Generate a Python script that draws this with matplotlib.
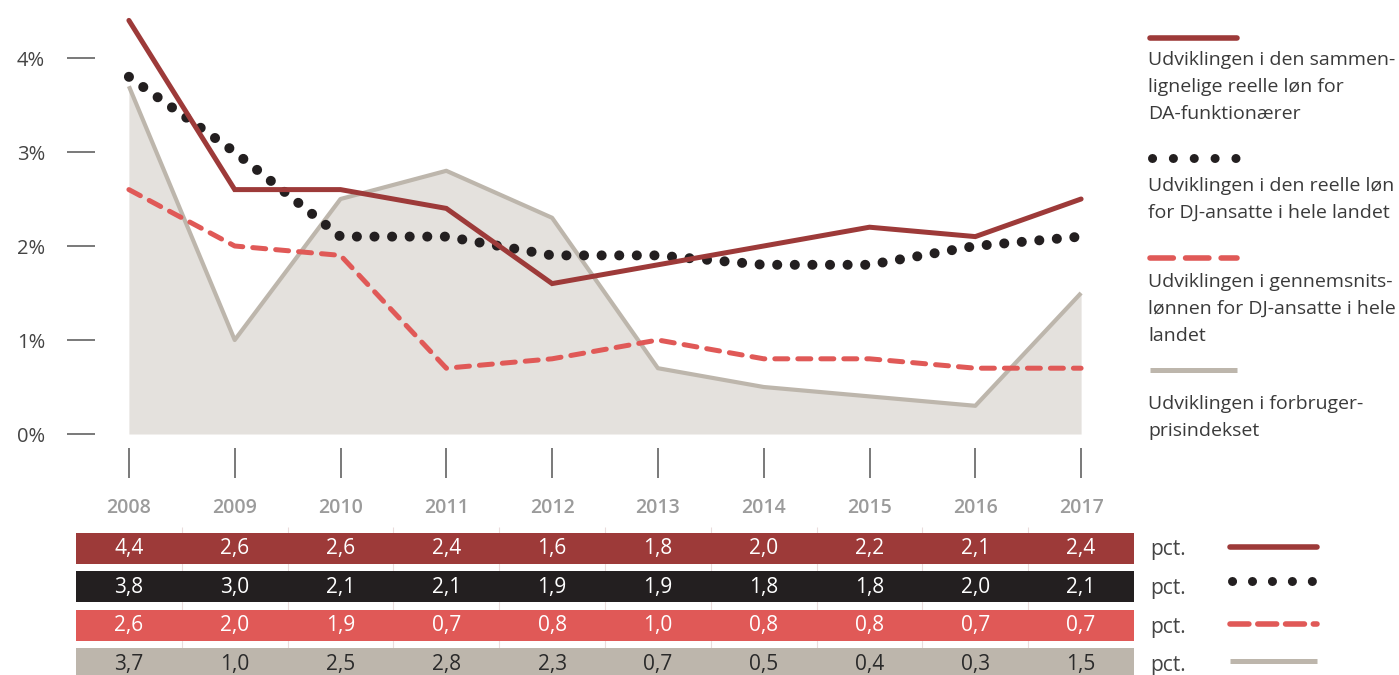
import numpy as np
import matplotlib
matplotlib.use('Agg')
import matplotlib.pyplot as plt

plt.rcParams['font.family'] = ['Open Sans', 'DejaVu Sans']

years = [2008, 2009, 2010, 2011, 2012, 2013, 2014, 2015, 2016, 2017]
da_real = [4.4, 2.6, 2.6, 2.4, 1.6, 1.8, 2.0, 2.2, 2.1, 2.4]
# the drawn line ends a bit higher than the table value in the original
da_real_line = [4.4, 2.6, 2.6, 2.4, 1.6, 1.8, 2.0, 2.2, 2.1, 2.5]
dj_real = [3.8, 3.0, 2.1, 2.1, 1.9, 1.9, 1.8, 1.8, 2.0, 2.1]
dj_avg = [2.6, 2.0, 1.9, 0.7, 0.8, 1.0, 0.8, 0.8, 0.7, 0.7]
cpi = [3.7, 1.0, 2.5, 2.8, 2.3, 0.7, 0.5, 0.4, 0.3, 1.5]
yticks = [0, 1, 2, 3, 4]
unit = 'pct.'
labels = [
    'Udviklingen i den sammen-\nlignelige reelle løn for\nDA-funktionærer',
    'Udviklingen i den reelle løn\nfor DJ-ansatte i hele landet',
    'Udviklingen i gennemsnits-\nlønnen for DJ-ansatte i hele\nlandet',
    'Udviklingen i forbruger-\nprisindekset',
]

C_DA = '#9d3a39'
C_DJ = '#231f20'
C_AVG = '#e05957'
C_CPI = '#bdb6ac'
C_FILL = '#e4e1dd'

W, H = 1399, 675
fig = plt.figure(figsize=(W / 100, H / 100), dpi=100)

# style per series: (colour, line kwargs)
styles = [
    (C_DA, dict(lw=3.6, solid_capstyle='round', solid_joinstyle='miter')),
    (C_DJ, dict(lw=7.2, linestyle=(0, (0.01, 1.75)), dash_capstyle='round')),
    (C_AVG, dict(lw=3.6, linestyle=(0, (2.6, 2.0)), dash_capstyle='round')),
    (C_CPI, dict(lw=3.0, solid_capstyle='butt')),
]

# ---- main chart ----
x0px, dx = 128.9, 105.8          # pixel of 2008 and pixels per year
left_px, right_px, top_px, bot_px = 95, 1134, 0, 480
y0px, dy = 434, 94               # pixel of 0% and pixels per %
ax = fig.add_axes([left_px / W, 1 - bot_px / H, (right_px - left_px) / W, (bot_px - top_px) / H])
ax.set_xlim(2008 + (left_px - x0px) / dx, 2008 + (right_px - x0px) / dx)
ax.set_ylim((y0px - bot_px) / dy, (y0px - top_px) / dy)

ax.fill_between(years, 0, cpi, color=C_FILL, lw=0, zorder=1)
ax.plot(years, cpi, color=C_CPI, zorder=2, **styles[3][1])
ax.plot(years, dj_avg, color=C_AVG, zorder=3, **styles[2][1])
ax.plot(years, dj_real, color=C_DJ, zorder=4, **styles[1][1])
ax.plot(years, da_real_line, color=C_DA, zorder=5, **styles[0][1])

for s in ax.spines.values():
    s.set_visible(False)
ax.set_yticks(yticks)
ax.set_yticklabels([f'{v}%' for v in yticks])
ax.tick_params(axis='y', direction='out', length=20, width=1.1, color='#555555',
               pad=16, labelsize=14.5, labelcolor='#444444')
ax.set_xticks(years)
ax.set_xticklabels([str(y) for y in years])
ax.tick_params(axis='x', length=0, pad=13, labelsize=14, labelcolor='#9b9b9b')
for t in ax.get_xticklabels():
    t.set_fontweight('semibold')
ax.vlines(years, (y0px - 448) / dy, (y0px - 478) / dy, color='#555555', lw=1.1)

# ---- table ----
row_c, row_p = 548, 38.5
tab_top, tab_bot = 527, 675
tax = fig.add_axes([76 / W, 1 - tab_bot / H, (1134 - 76) / W, (tab_bot - tab_top) / H])
tax.set_xlim(2007.5, 2017.5)
tax.set_ylim((tab_bot - row_c) / row_p, (tab_top - row_c) / row_p)
tax.axis('off')
tax.vlines(np.array(years[:-1]) + 0.5, *tax.get_ylim(), color='#eadcdc', lw=0.8, zorder=0)
rows = [da_real, dj_real, dj_avg, cpi]
row_colors = [C_DA, C_DJ, C_AVG, C_CPI]
txt_colors = ['white', 'white', 'white', '#2a2a2a']
for i, (vals, rc, tc) in enumerate(zip(rows, row_colors, txt_colors)):
    tax.barh(i, years[-1] - years[0] + 1, left=years[0] - 0.5, height=31 / row_p,
             color=rc, lw=0, zorder=1)
    for yr, v in zip(years, vals):
        tax.text(yr, i + 0.02, f'{v:.1f}'.replace('.', ','), ha='center', va='center',
                 fontsize=15, color=tc, zorder=2)

# ---- legend and unit column (pixel overlay) ----
ov = fig.add_axes([0, 0, 1, 1])
ov.set_xlim(0, W)
ov.set_ylim(H, 0)
ov.axis('off')

leg_sample_y = [38, 158, 258, 370]
leg_text_y = [51, 177, 273, 395]
for (col, kw), sy, ty, lab in zip(styles, leg_sample_y, leg_text_y, labels):
    kw = dict(kw)
    if col == C_DJ:
        kw['lw'] = 6.5
        kw['linestyle'] = (0, (0.01, 2.3))
        ov.plot([1152, 1240], [sy, sy], color=col, **kw)
    else:
        if col == C_AVG:
            kw['linestyle'] = (0, (4.2, 2.2))
        kw['lw'] = 4.0 if col != C_CPI else 3.6
        kw['solid_capstyle'] = 'round' if col != C_CPI else 'butt'
        ov.plot([1150, 1237], [sy, sy], color=col, **kw)
    ov.text(1148, ty, lab, ha='left', va='top', fontsize=14, color='#3a3a3a', linespacing=1.64)

for i, (col, kw) in enumerate(styles):
    y = row_c + i * row_p
    ov.text(1150, y + 2, unit, ha='left', va='center', fontsize=15, color='#444444')
    kw = dict(kw)
    if col == C_DJ:
        kw['lw'] = 6.5
        kw['linestyle'] = (0, (0.01, 2.2))
        ov.plot([1232, 1316], [y - 6, y - 6], color=col, **kw)
    else:
        if col == C_AVG:
            kw['linestyle'] = (0, (3.4, 1.6))
        kw['lw'] = 4.0 if col != C_CPI else 3.6
        ov.plot([1230, 1317], [y - 1 if col != C_CPI else y - 3] * 2, color=col, **kw)

fig.savefig('out.png', dpi=100)
